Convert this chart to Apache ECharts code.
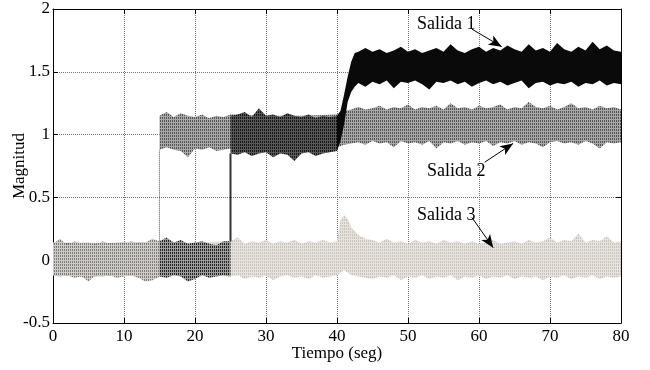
<!DOCTYPE html>
<html>
<head>
<meta charset="utf-8">
<script src="https://cdn.jsdelivr.net/npm/echarts@6/dist/echarts.min.js"></script>
<style>
  html, body { margin: 0; padding: 0; background: #fff; }
  #chart { width: 650px; height: 370px; }
</style>
</head>
<body>
<div id="chart"></div>
<script>
// Envolventes del ruido de cada salida: [tiempo, minimo, maximo]
// (dos filas con el mismo tiempo = salto de la senal)
const salida1 = [
  [0, -0.12, 0.13], [1, -0.13, 0.17], [2, -0.12, 0.12], [3, -0.14, 0.15], [4, -0.13, 0.13],
  [5, -0.17, 0.14], [6, -0.12, 0.12], [7, -0.13, 0.15], [8, -0.12, 0.13], [9, -0.14, 0.14],
  [10, -0.13, 0.13], [11, -0.12, 0.15], [12, -0.14, 0.13], [13, -0.17, 0.14], [14, -0.16, 0.17],
  [15, -0.13, 0.15], [16, -0.14, 0.18], [17, -0.12, 0.14], [18, -0.13, 0.16], [19, -0.17, 0.13],
  [20, -0.15, 0.14], [21, -0.12, 0.15], [22, -0.14, 0.13], [23, -0.13, 0.12], [24, -0.12, 0.15],
  [25, -0.13, 0.15],
  [25, 0.85, 1.15], [26, 0.84, 1.16], [27, 0.86, 1.18], [28, 0.83, 1.14], [29, 0.85, 1.21],
  [30, 0.86, 1.15], [31, 0.82, 1.16], [32, 0.85, 1.14], [33, 0.84, 1.17], [34, 0.79, 1.15],
  [35, 0.85, 1.14], [36, 0.86, 1.16], [37, 0.83, 1.13], [38, 0.85, 1.15], [39, 0.86, 1.14],
  [40, 0.87, 1.15], [40.5, 0.95, 1.19], [41, 1.08, 1.32], [41.5, 1.26, 1.46], [42, 1.34, 1.58],
  [42.5, 1.38, 1.65], [43, 1.41, 1.66], [44, 1.38, 1.69], [45, 1.42, 1.66], [46, 1.40, 1.68],
  [47, 1.43, 1.65], [48, 1.37, 1.67], [49, 1.42, 1.70], [50, 1.41, 1.66], [51, 1.43, 1.68],
  [52, 1.40, 1.65], [53, 1.36, 1.67], [54, 1.42, 1.69], [55, 1.41, 1.66], [56, 1.43, 1.72],
  [57, 1.40, 1.67], [58, 1.42, 1.65], [59, 1.38, 1.68], [60, 1.41, 1.70], [61, 1.43, 1.66],
  [62, 1.40, 1.69], [63, 1.42, 1.67], [64, 1.39, 1.71], [65, 1.41, 1.68], [66, 1.43, 1.66],
  [67, 1.37, 1.72], [68, 1.41, 1.67], [69, 1.42, 1.69], [70, 1.39, 1.66], [71, 1.41, 1.73],
  [72, 1.40, 1.68], [73, 1.42, 1.66], [74, 1.38, 1.70], [75, 1.41, 1.67], [76, 1.40, 1.74],
  [77, 1.43, 1.68], [78, 1.39, 1.71], [79, 1.41, 1.67], [80, 1.40, 1.66]
];

const salida2 = [
  [0, -0.12, 0.14], [5, -0.13, 0.13], [10, -0.12, 0.14], [15, -0.13, 0.14],
  [15, 0.88, 1.15], [16, 0.90, 1.18], [17, 0.88, 1.14], [18, 0.87, 1.17], [19, 0.82, 1.15],
  [20, 0.89, 1.14], [21, 0.88, 1.16], [22, 0.90, 1.13], [23, 0.87, 1.15], [24, 0.88, 1.14],
  [25, 0.89, 1.16], [30, 0.90, 1.15], [35, 0.90, 1.15], [40, 0.90, 1.16],
  [41, 0.92, 1.19], [42, 0.93, 1.20], [43, 0.94, 1.22], [44, 0.92, 1.20], [45, 0.95, 1.21],
  [46, 0.93, 1.23], [47, 0.94, 1.20], [48, 0.90, 1.22], [49, 0.95, 1.21], [50, 0.93, 1.24],
  [51, 0.94, 1.20], [52, 0.92, 1.22], [53, 0.95, 1.21], [54, 0.89, 1.23], [55, 0.94, 1.20],
  [56, 0.93, 1.25], [57, 0.95, 1.21], [58, 0.92, 1.22], [59, 0.94, 1.20], [60, 0.93, 1.23],
  [61, 0.95, 1.21], [62, 0.91, 1.22], [63, 0.94, 1.24], [64, 0.93, 1.20], [65, 0.95, 1.22],
  [66, 0.92, 1.21], [67, 0.94, 1.26], [68, 0.93, 1.22], [69, 0.90, 1.21], [70, 0.94, 1.23],
  [71, 0.95, 1.20], [72, 0.93, 1.22], [73, 0.94, 1.25], [74, 0.92, 1.21], [75, 0.95, 1.22],
  [76, 0.93, 1.20], [77, 0.89, 1.23], [78, 0.94, 1.21], [79, 0.93, 1.22], [80, 0.94, 1.20]
];

const salida3 = [
  [0, -0.12, 0.14], [5, -0.13, 0.14], [10, -0.12, 0.13], [15, -0.13, 0.14], [20, -0.12, 0.14],
  [25, -0.13, 0.15], [26, -0.12, 0.18], [27, -0.15, 0.13], [28, -0.13, 0.15], [29, -0.14, 0.14],
  [30, -0.12, 0.16], [31, -0.16, 0.13], [32, -0.13, 0.15], [33, -0.12, 0.14], [34, -0.14, 0.16],
  [35, -0.13, 0.13], [36, -0.15, 0.15], [37, -0.12, 0.14], [38, -0.14, 0.16], [39, -0.13, 0.14],
  [40, -0.12, 0.15], [40.5, -0.10, 0.32], [41, -0.08, 0.36], [41.5, -0.10, 0.33], [42, -0.12, 0.26],
  [43, -0.13, 0.20], [44, -0.14, 0.17], [45, -0.15, 0.16], [46, -0.13, 0.14], [47, -0.14, 0.17],
  [48, -0.12, 0.14], [49, -0.16, 0.15], [50, -0.13, 0.13], [51, -0.14, 0.16], [52, -0.12, 0.14],
  [53, -0.15, 0.15], [54, -0.13, 0.13], [55, -0.14, 0.16], [56, -0.12, 0.14], [57, -0.16, 0.15],
  [58, -0.13, 0.13], [59, -0.14, 0.15], [60, -0.12, 0.13], [61, -0.15, 0.14], [62, -0.13, 0.16],
  [63, -0.14, 0.13], [64, -0.12, 0.14], [65, -0.15, 0.15], [66, -0.13, 0.13], [67, -0.14, 0.16],
  [68, -0.13, 0.14], [69, -0.16, 0.15], [70, -0.13, 0.18], [71, -0.14, 0.14], [72, -0.12, 0.16],
  [73, -0.15, 0.15], [74, -0.13, 0.21], [75, -0.14, 0.14], [76, -0.12, 0.16], [77, -0.15, 0.15],
  [78, -0.13, 0.19], [79, -0.14, 0.14], [80, -0.13, 0.15]
];

// Rotulos con flecha sobre la grafica
const rotulos = ['Salida 1', 'Salida 2', 'Salida 3'];

const fuente = 'Liberation Serif, Times New Roman, serif';

// Textura de rayas finas (imita el trazo punteado muy denso)
function textura(oscuro, claro) {
  const c = document.createElement('canvas');
  c.width = 2;
  c.height = 3;
  const ctx = c.getContext('2d');
  ctx.fillStyle = claro;
  ctx.fillRect(0, 0, 2, 3);
  ctx.fillStyle = oscuro;
  ctx.fillRect(0, 0, 1, 2);
  return { image: c, repeat: 'repeat' };
}

// Banda de ruido: poligono entre minimo y maximo, con relleno por tramo de tiempo
function banda(nombre, filas, tramos, salto, z) {
  return {
    type: 'custom',
    name: nombre,
    z: z,
    clip: true,
    silent: true,
    data: filas,
    encode: { x: 0, y: [1, 2] },
    renderItem: function (params, api) {
      if (params.dataIndex !== 0) return null;
      const hijos = [];
      const piezas = [];
      let actual = [filas[0]];
      for (let i = 1; i < filas.length; i++) {
        if (filas[i][0] === filas[i - 1][0]) {
          piezas.push(actual);
          actual = [filas[i]];
          const a = api.coord([filas[i][0], filas[i - 1][2]]);
          const b = api.coord([filas[i][0], filas[i][1]]);
          hijos.push({
            type: 'line',
            shape: { x1: a[0], y1: a[1], x2: b[0], y2: b[1] },
            style: { stroke: salto.color, lineWidth: salto.ancho, lineDash: salto.guion }
          });
        } else {
          actual.push(filas[i]);
        }
      }
      piezas.push(actual);
      piezas.forEach(function (p) {
        tramos.forEach(function (t) {
          const pts = p.filter(r => r[0] >= t[0] && r[0] <= t[1]);
          if (pts.length < 2) return;
          const arriba = pts.map(r => api.coord([r[0], r[2]]));
          const abajo = pts.slice().reverse().map(r => api.coord([r[0], r[1]]));
          hijos.push({
            type: 'polygon',
            shape: { points: arriba.concat(abajo) },
            style: { fill: t[2], stroke: null }
          });
        });
      });
      return { type: 'group', children: hijos };
    }
  };
}

function ejeX(pos, conEtiquetas) {
  return {
    type: 'value', position: pos, min: 0, max: 80, interval: 10,
    axisLine: { show: true, onZero: false, lineStyle: { color: '#000', width: 1 } },
    axisTick: { show: true, inside: true, length: 5, lineStyle: { color: '#000' } },
    axisLabel: { show: conEtiquetas, margin: 5, fontFamily: fuente, fontSize: 17, color: '#000' },
    splitLine: { show: conEtiquetas, lineStyle: { color: '#777', type: [1, 1], width: 1 } }
  };
}

function ejeY(pos, conEtiquetas) {
  return {
    type: 'value', position: pos, min: -0.5, max: 2, interval: 0.5,
    axisLine: { show: true, onZero: false, lineStyle: { color: '#000', width: 1 } },
    axisTick: { show: true, inside: true, length: 5, lineStyle: { color: '#000' } },
    axisLabel: { show: conEtiquetas, margin: 3, fontFamily: fuente, fontSize: 17, color: '#000' },
    splitLine: { show: conEtiquetas, lineStyle: { color: '#777', type: [1, 1], width: 1 } }
  };
}

function dibujar() {
  const grafica = echarts.init(document.getElementById('chart'));

  const ejeX0 = ejeX('bottom', true);
  ejeX0.name = 'Tiempo (seg)';
  ejeX0.nameLocation = 'middle';
  ejeX0.nameGap = 22;
  ejeX0.nameMoveOverlap = false;
  ejeX0.nameTextStyle = { fontFamily: fuente, fontSize: 17, color: '#000' };

  const ejeY0 = ejeY('left', true);
  ejeY0.name = 'Magnitud';
  ejeY0.nameLocation = 'middle';
  ejeY0.nameGap = 25;
  ejeY0.nameMoveOverlap = false;
  ejeY0.nameTextStyle = { fontFamily: fuente, fontSize: 17, color: '#000' };

  const x1 = ejeX('top', false);
  const y1 = ejeY('right', false);

  const opcion = {
    animation: false,
    backgroundColor: '#fff',
    grid: { left: 53, right: 29, top: 9, bottom: 47, containLabel: false, outerBoundsMode: 'none' },
    xAxis: [ejeX0, x1],
    yAxis: [ejeY0, y1],
    series: [
      banda('Salida 3', salida3, [[0, 80, textura('#c9c5be', '#e6e3de')]], { color: '#ccc', ancho: 1, guion: [1, 1] }, 2),
      banda('Salida 2', salida2, [[0, 15, textura('#5a5a5a', '#ababab')], [15, 80, textura('#555555', '#a8a8a8')]], { color: '#555', ancho: 1, guion: [1, 1] }, 3),
      banda('Salida 1', salida1, [
        [0, 15, textura('#7e7c78', '#cfccc7')],
        [15, 25, textura('#222222', '#9c9c9c')],
        [25, 40, textura('#151515', '#585858')],
        [40, 80, '#0a0a0a']
      ], { color: '#333', ancho: 2, guion: null }, 4),
      {
        type: 'line',
        data: [],
        z: 10,
        silent: true,
        markLine: {
          silent: true,
          animation: false,
          symbol: ['none', 'arrow'],
          symbolSize: [8, 13],
          label: { show: false },
          lineStyle: { color: '#000', width: 1, type: 'solid' },
          data: [
            [{ coord: [59.0, 1.84] }, { coord: [63.2, 1.70] }],
            [{ coord: [60.8, 0.78] }, { coord: [64.8, 0.93] }],
            [{ coord: [59.0, 0.34] }, { coord: [62.0, 0.10] }]
          ]
        },
        markPoint: {
          silent: true,
          animation: false,
          symbol: 'circle',
          symbolSize: 1,
          itemStyle: { color: 'rgba(0,0,0,0)' },
          label: { show: true, position: 'inside', formatter: '{b}', fontFamily: fuente, fontSize: 18, color: '#000' },
          data: [
            { name: rotulos[0], coord: [55.4, 1.88] },
            { name: rotulos[1], coord: [56.8, 0.71] },
            { name: rotulos[2], coord: [55.4, 0.36] }
          ]
        }
      }
    ]
  };

  grafica.setOption(opcion);
}

window.addEventListener('load', dibujar);
</script>
</body>
</html>
